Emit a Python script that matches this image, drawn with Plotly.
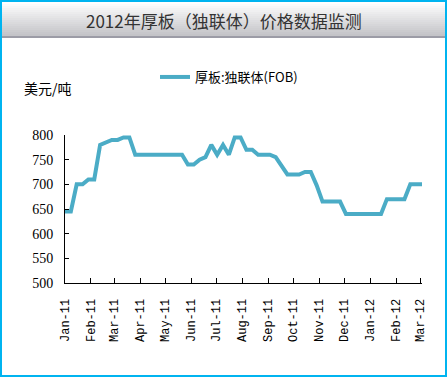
import plotly.graph_objects as go
import pandas as pd

# ---- data ----
start_date = "2011-01-01"
prices = [645, 645, 700, 700, 710, 710, 780, 785, 790, 790,
          795, 795, 760, 760, 760, 760, 760, 760, 760, 760,
          760, 740, 740, 750, 755, 780, 760, 780, 760, 795,
          795, 770, 770, 760, 760, 760, 755, 738, 720, 720,
          720, 725, 725, 698, 665, 665, 665, 665, 640, 640,
          640, 640, 640, 640, 640, 670, 670, 670, 670, 700,
          700, 700]
dates = pd.date_range(start_date, periods=len(prices), freq="7D")
month_ticks = pd.date_range("2011-01-01", "2012-03-01", freq="MS")
month_labels = ["Jan-11", "Feb-11", "Mar-11", "Apr-11", "May-11", "Jun-11", "Jul-11",
                "Aug-11", "Sep-11", "Oct-11", "Nov-11", "Dec-11", "Jan-12", "Feb-12", "Mar-12"]
series_name = "厚板:独联体(FOB)"
title_text = "2012年厚板（独联体）价格数据监测"
y_unit = "美元/吨"

W, H = 447, 377
L, R, T, B = 65, 25, 135, 94
PW, PH = W - L - R, H - T - B

def px(x):
    return (x - L) / PW

def py(y):
    return (H - B - y) / PH

fig = go.Figure()
fig.add_trace(go.Scatter(x=dates, y=prices, mode="lines", name=series_name,
                         line=dict(color="#4BACC6", width=4)))

shapes = []
# title bar gradient
n = 17
for i in range(n):
    t = i / (n - 1)
    c = int(255 - t * (255 - 196))
    c2 = int(255 - t * (255 - 200))
    shapes.append(dict(type="rect", xref="paper", yref="paper",
                       x0=px(0), x1=px(W), y0=py(2 + i * 2), y1=py(4 + i * 2),
                       fillcolor=f"rgb({c},{c},{c2})", line=dict(width=0), layer="below"))
shapes.append(dict(type="rect", xref="paper", yref="paper",
                   x0=px(0), x1=px(W), y0=py(36), y1=py(38),
                   fillcolor="#9c9ca6", line=dict(width=0), layer="below"))
# outer border
shapes.append(dict(type="rect", xref="paper", yref="paper",
                   x0=px(1), x1=px(W - 1), y0=py(1), y1=py(H - 1),
                   line=dict(color="#00B4F0", width=2), fillcolor="rgba(0,0,0,0)"))

fig.update_layout(
    width=W, height=H,
    margin=dict(l=L, r=R, t=T, b=B),
    paper_bgcolor="white", plot_bgcolor="white",
    shapes=shapes,
    showlegend=True,
    legend=dict(orientation="h", x=px(155), y=py(77), xanchor="left", yanchor="middle",
                bgcolor="rgba(0,0,0,0)", font=dict(family="Noto Sans CJK SC", size=13, color="black")),
    annotations=[
        dict(text=title_text, xref="paper", yref="paper", x=px(W / 2), y=py(20),
             showarrow=False, xanchor="center", yanchor="middle",
             font=dict(family="Noto Sans CJK SC", size=17, color="#333333")),
        dict(text=y_unit, xref="paper", yref="paper", x=px(22), y=py(88),
             showarrow=False, xanchor="left", yanchor="middle",
             font=dict(family="Noto Sans CJK SC", size=14, color="black")),
    ],
)
fig.update_xaxes(type="date", range=["2011-01-01", "2012-03-03"],
                 tickvals=month_ticks, ticktext=month_labels, tickangle=-90,
                 ticks="inside", ticklen=5, tickcolor="black", ticklabelstandoff=10,
                 showline=True, linecolor="black", linewidth=1, showgrid=False, zeroline=False,
                 tickfont=dict(family="Liberation Mono", size=12, color="black"))
fig.update_yaxes(range=[500, 800], dtick=50, ticks="inside", ticklen=4, tickcolor="black",
                 ticklabelstandoff=8,
                 showline=True, linecolor="black", linewidth=1, showgrid=False, zeroline=False,
                 tickfont=dict(family="Liberation Serif", size=14, color="black"))

fig.write_html("out.html", config={"displayModeBar": False},
               post_script="document.body.style.margin='0';document.body.style.overflow='hidden';")
